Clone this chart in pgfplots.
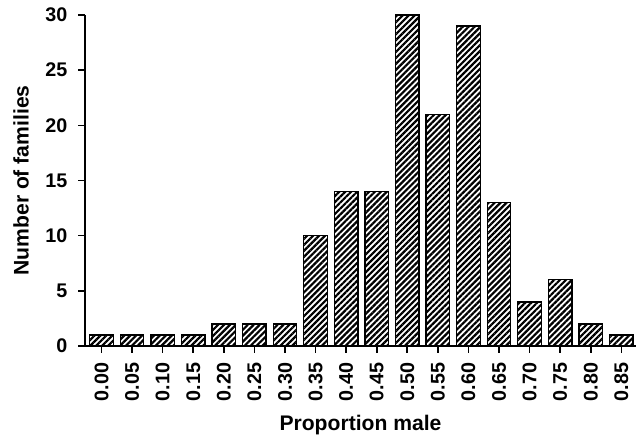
\documentclass[border=0pt]{standalone}
\usepackage{fontspec}
\setmainfont{Liberation Sans}
\usepackage{pgfplots}
\pgfplotsset{compat=1.18}
\usetikzlibrary{patterns.meta}
\begin{document}
\begin{tikzpicture}
\begin{axis}[
  scale only axis, width=551bp, height=331bp,
  xmin=-0.54, xmax=17.48, ymin=0, ymax=30,
  axis lines=left,
  axis line style={-, line width=1.6bp, black},
  x axis line style={-}, y axis line style={-},
  xtick={0,...,17},
  xticklabels={0.00,0.05,0.10,0.15,0.20,0.25,0.30,0.35,0.40,0.45,0.50,0.55,0.60,0.65,0.70,0.75,0.80,0.85},
  ytick={0,5,...,30},
  tick style={black, line width=1.6bp},
  tick align=outside, major tick length=6.5bp,
  xticklabel style={rotate=90, anchor=east, inner sep=0pt, font=\fontsize{19.8}{19.8}\selectfont\bfseries},
  yticklabel style={anchor=east, inner sep=0pt, font=\fontsize{19.8}{19.8}\selectfont\bfseries},
  xticklabel shift=10bp, yticklabel shift=11bp,
  /pgf/number format/assume math mode=true,
  xlabel={Proportion male},
  ylabel={Number of families},
  xlabel style={at={([yshift=-84bp]axis description cs:0.5,0)}, anchor=base, font=\fontsize{21.2}{21.2}\selectfont\bfseries},
  ylabel style={at={([xshift=-64bp]axis description cs:0,0.5)}, anchor=center, font=\fontsize{21.2}{21.2}\selectfont\bfseries},
  clip=false,
]
\addplot[ybar, bar width=23.5bp, draw=black, line width=1.3bp,
  pattern={Lines[angle=45,distance=4.2bp,line width=2.2bp]}]
  coordinates {(0,1) (1,1) (2,1) (3,1) (4,2) (5,2) (6,2) (7,10) (8,14) (9,14)
               (10,30) (11,21) (12,29) (13,13) (14,4) (15,6) (16,2) (17,1)};
\end{axis}
\pgfresetboundingbox
\path[use as bounding box] (-85bp,-90bp) rectangle (551bp,346bp);
\end{tikzpicture}
\end{document}
